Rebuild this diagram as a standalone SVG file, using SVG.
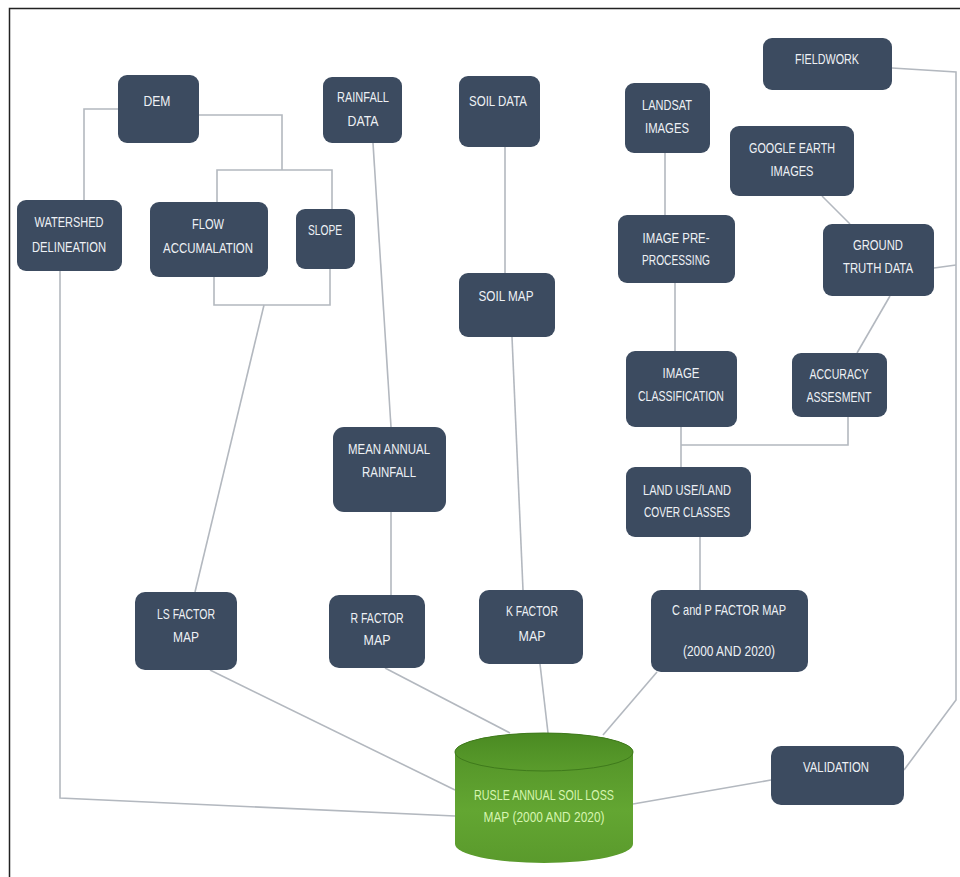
<svg xmlns="http://www.w3.org/2000/svg" width="960" height="877" viewBox="0 0 960 877">
<defs>
<style>
.n{fill:#3c4b60;}
.t{fill:#eef1f5;font-family:"Liberation Sans",Arial,sans-serif;font-size:15px;text-anchor:middle;}
.c{fill:none;stroke:#b3b8bf;stroke-width:1.6;}
.g{fill:#d6f5b0;font-family:"Liberation Sans",Arial,sans-serif;font-size:15px;text-anchor:middle;}
</style>
<linearGradient id="cyl" x1="0" y1="0" x2="0" y2="1">
<stop offset="0" stop-color="#4f8f25"/>
<stop offset="0.6" stop-color="#63a632"/>
<stop offset="1" stop-color="#5a9a2c"/>
</linearGradient>
<linearGradient id="cyltop" x1="0" y1="0" x2="0" y2="1">
<stop offset="0" stop-color="#4a8a22"/>
<stop offset="1" stop-color="#5a9c2c"/>
</linearGradient>
</defs>
<rect x="0" y="0" width="960" height="877" fill="#ffffff"/>
<path d="M9.5 877 V8.5 H960" fill="none" stroke="#222" stroke-width="1.5"/>

<g id="connectors">
<path class="c" d="M118 109 H84 V200"/>
<path class="c" d="M199 115 H282 V170"/>
<path class="c" d="M217 202 V170 H332 V209"/>
<path class="c" d="M214 277 V305 H330 V269"/>
<path class="c" d="M264 305 L195 592"/>
<path class="c" d="M373 143 L391 427"/>
<path class="c" d="M391 512 V595"/>
<path class="c" d="M505 147 V273"/>
<path class="c" d="M512 337 L523 590"/>
<path class="c" d="M665 153 V215"/>
<path class="c" d="M675 283 V351"/>
<path class="c" d="M681 427 V467"/>
<path class="c" d="M681 445 H848 V417"/>
<path class="c" d="M822 196 L850 224"/>
<path class="c" d="M890 296 L857 353"/>
<path class="c" d="M892 68 L956 72 V700 L904 770"/>
<path class="c" d="M934 268 L956 265"/>
<path class="c" d="M700 537 V590"/>
<path class="c" d="M60 271 V798 L455 816"/>
<path class="c" d="M210 670 L455 790"/>
<path class="c" d="M385 668 L510 733"/>
<path class="c" d="M540 664 L548 733"/>
<path class="c" d="M657 672 L603 735"/>
<path class="c" d="M771 780 L633 804"/>
</g>

<g id="dem"><rect class="n" x="118" y="75" width="81" height="68" rx="9"/><text class="t" x="157" y="106" textLength="27" lengthAdjust="spacingAndGlyphs">DEM</text></g>
<g id="rainfall-data"><rect class="n" x="323" y="77" width="79" height="66" rx="9"/><text class="t" x="363" y="102" textLength="52" lengthAdjust="spacingAndGlyphs">RAINFALL</text><text class="t" x="363" y="126" textLength="31" lengthAdjust="spacingAndGlyphs">DATA</text></g>
<g id="watershed"><rect class="n" x="17" y="200" width="105" height="71" rx="9"/><text class="t" x="69" y="227" textLength="69" lengthAdjust="spacingAndGlyphs">WATERSHED</text><text class="t" x="69" y="252" textLength="74" lengthAdjust="spacingAndGlyphs">DELINEATION</text></g>
<g id="flow"><rect class="n" x="150" y="202" width="118" height="75" rx="9"/><text class="t" x="208" y="229" textLength="32" lengthAdjust="spacingAndGlyphs">FLOW</text><text class="t" x="208" y="253" textLength="90" lengthAdjust="spacingAndGlyphs">ACCUMALATION</text></g>
<g id="slope"><rect class="n" x="296" y="209" width="59" height="60" rx="9"/><text class="t" x="325" y="235" textLength="34" lengthAdjust="spacingAndGlyphs">SLOPE</text></g>
<g id="soil-data"><rect class="n" x="459" y="76" width="81" height="71" rx="9"/><text class="t" x="498" y="106" textLength="58" lengthAdjust="spacingAndGlyphs">SOIL DATA</text></g>
<g id="landsat"><rect class="n" x="625" y="83" width="85" height="70" rx="9"/><text class="t" x="667" y="110" textLength="50" lengthAdjust="spacingAndGlyphs">LANDSAT</text><text class="t" x="667" y="133" textLength="44" lengthAdjust="spacingAndGlyphs">IMAGES</text></g>
<g id="fieldwork"><rect class="n" x="763" y="38" width="129" height="52" rx="9"/><text class="t" x="827" y="64" textLength="64" lengthAdjust="spacingAndGlyphs">FIELDWORK</text></g>
<g id="google-earth"><rect class="n" x="730" y="126" width="124" height="70" rx="9"/><text class="t" x="792" y="153" textLength="86" lengthAdjust="spacingAndGlyphs">GOOGLE EARTH</text><text class="t" x="792" y="176" textLength="43" lengthAdjust="spacingAndGlyphs">IMAGES</text></g>
<g id="image-pre"><rect class="n" x="618" y="215" width="117" height="68" rx="9"/><text class="t" x="676" y="243" textLength="67" lengthAdjust="spacingAndGlyphs">IMAGE PRE-</text><text class="t" x="676" y="265" textLength="68" lengthAdjust="spacingAndGlyphs">PROCESSING</text></g>
<g id="ground-truth"><rect class="n" x="823" y="224" width="111" height="72" rx="9"/><text class="t" x="878" y="250" textLength="50" lengthAdjust="spacingAndGlyphs">GROUND</text><text class="t" x="878" y="273" textLength="70" lengthAdjust="spacingAndGlyphs">TRUTH DATA</text></g>
<g id="soil-map"><rect class="n" x="459" y="273" width="96" height="64" rx="9"/><text class="t" x="506" y="301" textLength="55" lengthAdjust="spacingAndGlyphs">SOIL MAP</text></g>
<g id="image-classification"><rect class="n" x="626" y="351" width="111" height="76" rx="9"/><text class="t" x="681" y="378" textLength="37" lengthAdjust="spacingAndGlyphs">IMAGE</text><text class="t" x="681" y="401" textLength="86" lengthAdjust="spacingAndGlyphs">CLASSIFICATION</text></g>
<g id="accuracy"><rect class="n" x="792" y="353" width="95" height="64" rx="9"/><text class="t" x="839" y="379" textLength="59" lengthAdjust="spacingAndGlyphs">ACCURACY</text><text class="t" x="839" y="402" textLength="65" lengthAdjust="spacingAndGlyphs">ASSESMENT</text></g>
<g id="land-use"><rect class="n" x="626" y="467" width="125" height="70" rx="9"/><text class="t" x="687" y="495" textLength="88" lengthAdjust="spacingAndGlyphs">LAND USE/LAND</text><text class="t" x="687" y="517" textLength="86" lengthAdjust="spacingAndGlyphs">COVER CLASSES</text></g>
<g id="mean-annual"><rect class="n" x="333" y="427" width="113" height="85" rx="11"/><text class="t" x="389" y="454" textLength="82" lengthAdjust="spacingAndGlyphs">MEAN ANNUAL</text><text class="t" x="389" y="477" textLength="54" lengthAdjust="spacingAndGlyphs">RAINFALL</text></g>
<g id="ls-factor"><rect class="n" x="135" y="592" width="102" height="78" rx="10"/><text class="t" x="186" y="619" textLength="58" lengthAdjust="spacingAndGlyphs">LS FACTOR</text><text class="t" x="186" y="642" textLength="26" lengthAdjust="spacingAndGlyphs">MAP</text></g>
<g id="r-factor"><rect class="n" x="329" y="595" width="96" height="73" rx="10"/><text class="t" x="377" y="623" textLength="53" lengthAdjust="spacingAndGlyphs">R FACTOR</text><text class="t" x="377" y="645" textLength="27" lengthAdjust="spacingAndGlyphs">MAP</text></g>
<g id="k-factor"><rect class="n" x="479" y="590" width="104" height="74" rx="10"/><text class="t" x="532" y="616" textLength="52" lengthAdjust="spacingAndGlyphs">K FACTOR</text><text class="t" x="532" y="641" textLength="27" lengthAdjust="spacingAndGlyphs">MAP</text></g>
<g id="cp-factor"><rect class="n" x="651" y="590" width="157" height="82" rx="10"/><text class="t" x="729" y="615" textLength="114" lengthAdjust="spacingAndGlyphs">C and P FACTOR MAP</text><text class="t" x="729" y="656" textLength="92" lengthAdjust="spacingAndGlyphs">(2000 AND 2020)</text></g>
<g id="validation"><rect class="n" x="771" y="746" width="133" height="59" rx="10"/><text class="t" x="836" y="772" textLength="66" lengthAdjust="spacingAndGlyphs">VALIDATION</text></g>
<g id="rusle">
<path d="M455 752 V844 A89 19 0 0 0 633 844 V752 A89 19 0 0 0 455 752 Z" fill="url(#cyl)"/>
<ellipse cx="544" cy="752" rx="89" ry="19" fill="url(#cyltop)" stroke="#3f7a1c" stroke-width="1"/>
<text class="g" x="544" y="800" textLength="140" lengthAdjust="spacingAndGlyphs">RUSLE ANNUAL SOIL LOSS</text>
<text class="g" x="544" y="822" textLength="121" lengthAdjust="spacingAndGlyphs">MAP (2000 AND 2020)</text>
</g>
</svg>
